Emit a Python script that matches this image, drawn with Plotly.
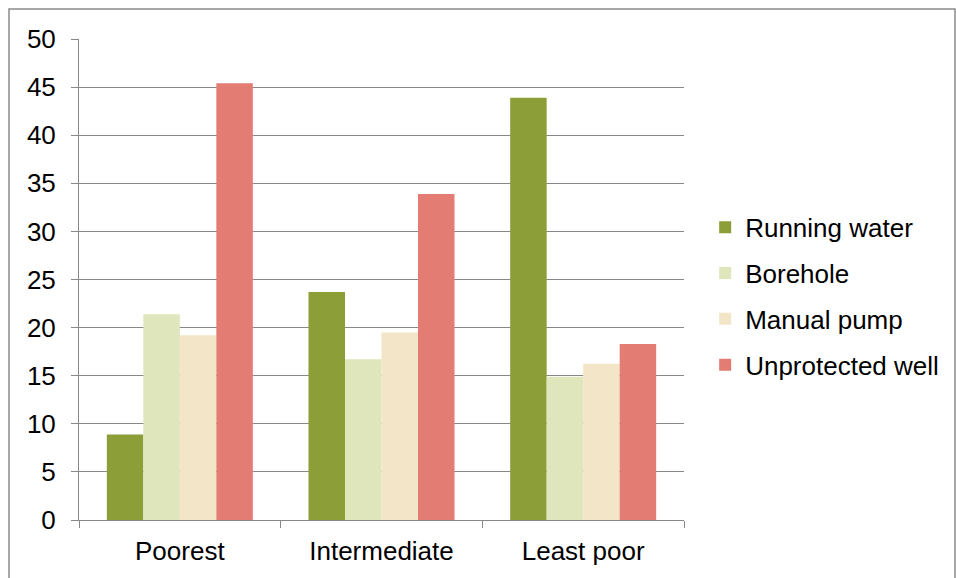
import plotly.graph_objects as go

categories = ["Poorest", "Intermediate", "Least poor"]
series_names = ["Running water", "Borehole", "Manual pump", "Unprotected well"]
running_water = [8.9, 23.7, 43.9]
borehole = [21.4, 16.7, 14.9]
manual_pump = [19.2, 19.5, 16.25]
unprotected_well = [45.4, 33.9, 18.3]
y_ticks = [0, 5, 10, 15, 20, 25, 30, 35, 40, 45, 50]

colors = ["#8C9E37", "#DFE6BC", "#F3E5C7", "#E37C73"]
values = [running_water, borehole, manual_pump, unprotected_well]

FONT = "Liberation Sans, Arial, sans-serif"

fig = go.Figure()
for i, (name, vals) in enumerate(zip(series_names, values)):
    fig.add_trace(go.Bar(
        x=categories, y=vals, name=name,
        marker=dict(color=colors[i], line=dict(width=0)),
        legendgroup=f"g{i}",
    ))

fig.update_layout(
    width=956, height=578,
    margin=dict(l=79, r=272, t=39, b=56),
    paper_bgcolor="white", plot_bgcolor="white",
    barmode="group", bargap=0.276, bargroupgap=0,
    font=dict(family=FONT, size=26, color="black"),
    showlegend=True,
    legend=dict(
        x=1.035, xanchor="left", y=0.465, yanchor="middle",
        font=dict(family=FONT, size=26, color="black"),
        tracegroupgap=9, bgcolor="rgba(0,0,0,0)",
    ),
    xaxis=dict(
        showline=True, linecolor="#888888", linewidth=1,
        ticks="outside", tickson="boundaries", ticklen=7, tickcolor="#888888",
        showgrid=False,
        tickfont=dict(family=FONT, size=26, color="black"),
        ticklabelstandoff=8,
    ),
    yaxis=dict(
        range=[0, 50], tickvals=y_ticks,
        showline=True, linecolor="#888888", linewidth=1,
        ticks="outside", ticklen=7, tickcolor="#888888",
        showgrid=True, gridcolor="#888888", gridwidth=1.2,
        zeroline=False,
        tickfont=dict(family=FONT, size=26, color="black"),
        ticklabelstandoff=10,
    ),
    shapes=[dict(
        type="rect", xref="paper", yref="paper",
        x0=(9 - 79) / 605, x1=(955 - 79) / 605,
        y0=-(585 - 522) / 483, y1=1 + (39 - 9) / 483,
        line=dict(color="#8a8a8a", width=1.5), fillcolor="rgba(0,0,0,0)", layer="below",
    )],
)

fig.write_html("out.html")
